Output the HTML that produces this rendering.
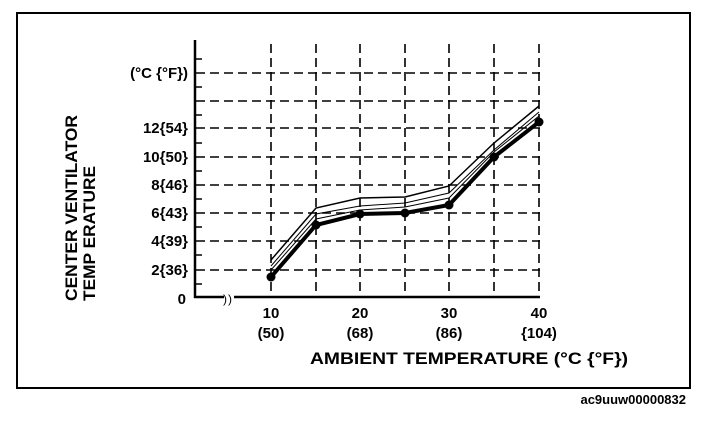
<!DOCTYPE html>
<html><head><style>
body{margin:0;background:#fff;}
svg text{font-family:"Liberation Sans",Arial,sans-serif;fill:#000;}
</style></head><body>
<svg width="704" height="420" viewBox="0 0 704 420" xmlns="http://www.w3.org/2000/svg">
<rect x="17" y="13" width="673" height="375" fill="none" stroke="#000" stroke-width="2"/>
<g stroke="#000" stroke-width="1.6" stroke-dasharray="9,5" fill="none">
<line x1="196" y1="73" x2="540" y2="73"/>
<line x1="196" y1="101" x2="540" y2="101"/>
<line x1="196" y1="128" x2="540" y2="128"/>
<line x1="196" y1="157" x2="540" y2="157"/>
<line x1="196" y1="185" x2="540" y2="185"/>
<line x1="196" y1="213" x2="540" y2="213"/>
<line x1="196" y1="241" x2="540" y2="241"/>
<line x1="196" y1="270" x2="540" y2="270"/>
<line x1="271" y1="44" x2="271" y2="297"/>
<line x1="316" y1="44" x2="316" y2="297"/>
<line x1="360" y1="44" x2="360" y2="297"/>
<line x1="405" y1="44" x2="405" y2="297"/>
<line x1="449" y1="44" x2="449" y2="297"/>
<line x1="494" y1="44" x2="494" y2="297"/>
<line x1="539" y1="44" x2="539" y2="297"/>
</g>
<g stroke="#000" stroke-width="2.5" fill="none">
<line x1="195" y1="40" x2="195" y2="298"/>
<line x1="194" y1="297" x2="540" y2="297"/>
</g>
<g stroke="#000" stroke-width="1.5">
<line x1="195" y1="59" x2="202" y2="59"/><line x1="195" y1="87" x2="202" y2="87"/>
<line x1="195" y1="115" x2="202" y2="115"/><line x1="195" y1="143" x2="202" y2="143"/>
<line x1="195" y1="171" x2="202" y2="171"/><line x1="195" y1="199" x2="202" y2="199"/>
<line x1="195" y1="227" x2="202" y2="227"/><line x1="195" y1="255" x2="202" y2="255"/>
<line x1="195" y1="284" x2="202" y2="284"/>
</g>
<rect x="224" y="290" width="10" height="12" fill="#fff"/>
<text x="223" y="303" font-size="12">)</text><text x="228" y="303" font-size="12">)</text>
<g fill="none" stroke="#000">
<polyline stroke-width="1.5" points="271,260 316,208 360,198 405,197 449,186 494,143 539,106"/>
<polyline stroke-width="1" points="271,266 316,214 360,206 405,203 449,193 494,150 539,112"/>
<polyline stroke-width="1" points="271,270 316,219 360,210 405,207 449,198 494,152 539,116"/>
<polyline stroke-width="4" points="271,277 316,225 360,214 405,213 449,205 494,157 539,122"/>
</g>
<g fill="#000">
<circle cx="271" cy="277" r="4.5"/><circle cx="316" cy="225" r="4.5"/><circle cx="360" cy="214" r="4.5"/>
<circle cx="405" cy="213" r="4.5"/><circle cx="449" cy="205" r="4.5"/><circle cx="494" cy="157" r="4.5"/><circle cx="539" cy="122" r="4.5"/>
</g>
<g font-size="15" text-anchor="end" font-weight="bold">
<text x="188" y="78">(°C {°F})</text>
<text x="188" y="133">12{54}</text>
<text x="188" y="162">10{50}</text>
<text x="188" y="190">8{46}</text>
<text x="188" y="218">6{43}</text>
<text x="188" y="246">4{39}</text>
<text x="188" y="275">2{36}</text>
<text x="186" y="304">0</text>
</g>
<g font-size="15" text-anchor="middle" font-weight="bold">
<text x="271" y="318">10</text><text x="271" y="338">(50)</text>
<text x="360" y="318">20</text><text x="360" y="338">(68)</text>
<text x="449" y="318">30</text><text x="449" y="338">(86)</text>
<text x="539" y="318">40</text><text x="539" y="338">{104)</text>
</g>
<text x="310" y="364" font-size="17" font-weight="bold" textLength="318" lengthAdjust="spacingAndGlyphs">AMBIENT TEMPERATURE  (°C {°F})</text>
<g font-size="17" font-weight="bold" transform="rotate(-90)">
<text x="-301" y="77" textLength="186" lengthAdjust="spacingAndGlyphs">CENTER VENTILATOR</text>
<text x="-301" y="95" textLength="135" lengthAdjust="spacingAndGlyphs">TEMP ERATURE</text>
</g>
<text x="686" y="404" font-size="13" font-weight="bold" text-anchor="end">ac9uuw00000832</text>
</svg>
</body></html>
